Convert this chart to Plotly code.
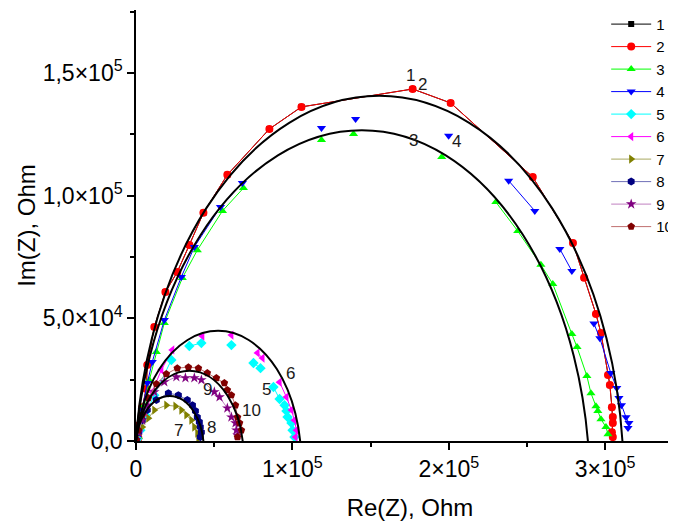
import plotly.graph_objects as go

# --- data (Re, Im in Ohm) ---
re_2 = [1.5e3, 2.1e3, 4.0e3, 6.6e3, 7.2e3, 11.7e3, 18.8e3, 26.4e3, 34.1e3, 43.1e3, 58.4e3, 85.3e3,
        105.8e3, 176.9e3, 201.2e3, 253.7e3, 279.4e3, 286.5e3, 294.1e3, 297.3e3, 301.8e3, 303.0e3,
        304.3e3, 304.9e3, 304.9e3, 304.3e3, 304.9e3]
im_2 = [1.2e3, 6.5e3, 13.8e3, 21.2e3, 31.0e3, 46.5e3, 60.7e3, 68.9e3, 79.9e3, 93.0e3, 108.5e3, 127.2e3,
        136.2e3, 143.5e3, 137.8e3, 107.6e3, 80.7e3, 66.5e3, 51.8e3, 44.0e3, 26.9e3, 22.8e3,
        13.8e3, 9.8e3, 7.3e3, 3.6e3, 1.6e3]

re_1 = list(re_2)
im_1 = list(im_2)

re_3 = [1.5e3, 2.8e3, 5.3e3, 8.5e3, 13.0e3, 18.1e3, 29.6e3, 39.2e3, 55.3e3, 68.7e3, None, 118.6e3, None,
        139.1e3, None, 195.5e3, None, 230.1e3, 244.1e3, 258.9e3, 266.5e3, 278.7e3, 282.0e3, 288.3e3,
        290.9e3, 294.1e3, 295.3e3, 297.3e3, 300.5e3, 301.8e3]
im_3 = [1.6e3, 6.5e3, 14.6e3, 24.8e3, 36.3e3, 48.1e3, 66.4e3, 77.8e3, 93.8e3, 103.1e3, None, 122.7e3, None,
        125.2e3, None, 115.8e3, None, 97.4e3, 85.6e3, 71.8e3, 64.0e3, 43.6e3, 38.3e3, 26.5e3,
        19.5e3, 14.2e3, 12.2e3, 8.9e3, 5.7e3, 2.8e3]

re_4 = [0.8e3, 2.1e3, 4.0e3, 7.2e3, 10.4e3, 18.1e3, 29.0e3, 37.3e3, 54.0e3, 68.0e3, None, 118.6e3, None,
        140.4e3, None, 199.9e3, None, 238.3e3, 255.0e3, None, 271.0e3, 278.7e3, None, 292.8e3, 296.6e3,
        303.6e3, 307.4e3, 308.8e3, 310.4e3, 313.3e3, 315.2e3, 314.6e3]
im_4 = [1.2e3, 5.3e3, 12.6e3, 23.6e3, 32.2e3, 49.3e3, 66.9e3, 79.1e3, 95.4e3, 105.2e3, None, 127.6e3, None,
        131.3e3, None, 124.4e3, None, 106.1e3, 93.8e3, None, 78.3e3, 69.3e3, None, 47.9e3, 41.9e3,
        27.7e3, 21.6e3, 17.5e3, 14.6e3, 9.7e3, 7.3e3, 5.3e3]

re_5 = [0.8e3, 2.8e3, 6.0e3, 11.7e3, 22.6e3, None, 34.1e3, 41.8e3, None, 61.0e3, None, 75.1e3, 79.6e3, None,
        87.9e3, 91.8e3, 95.0e3, 96.2e3, 96.9e3, 99.4e3, 100.1e3, 101.3e3]
im_5 = [0.8e3, 4.4e3, 10.6e3, 18.7e3, 33.0e3, None, 38.7e3, 39.9e3, None, 39.1e3, None, 31.8e3, 29.7e3, None,
        22.0e3, 17.1e3, 14.6e3, 12.2e3, 9.8e3, 7.3e3, 4.4e3, 1.6e3]

re_6 = [0.8e3, 2.8e3, 6.0e3, 10.4e3, 16.2e3, 23.2e3, None, 42.4e3, None, 61.0e3, None, 77.7e3, 80.9e3, None,
        91.8e3, 96.2e3, 99.4e3, 101.3e3, 102.6e3, 102.0e3]
im_6 = [0.8e3, 4.4e3, 11.4e3, 20.0e3, 29.0e3, 37.1e3, None, 42.8e3, None, 43.2e3, None, 35.9e3, 33.8e3, None,
        24.0e3, 17.9e3, 12.6e3, 8.5e3, 4.4e3, 1.6e3]

re_7 = [0.2e3, 1.5e3, 4.0e3, 7.9e3, 11.7e3, 19.4e3, 25.2e3, 29.0e3, 32.2e3, 35.4e3, 37.3e3, 39.2e3, 39.9e3]
im_7 = [0.4e3, 2.8e3, 5.7e3, 9.3e3, 12.6e3, 14.6e3, 14.2e3, 12.6e3, 10.6e3, 8.5e3, 5.7e3, 3.2e3, 1.2e3]

re_8 = [0.2e3, 1.5e3, 4.0e3, 7.2e3, 13.0e3, 20.7e3, 27.1e3, 32.8e3, 36.1e3, 38.0e3, 39.2e3, 40.5e3,
        41.1e3, 41.8e3, 41.1e3]
im_8 = [0.4e3, 3.6e3, 8.5e3, 12.6e3, 16.7e3, 19.5e3, 18.7e3, 16.7e3, 14.6e3, 12.2e3, 9.7e3, 7.7e3,
        5.7e3, 3.6e3, 1.6e3]

re_9 = [0.2e3, 1.5e3, 4.0e3, 7.2e3, 11.7e3, 18.1e3, 25.8e3, 31.6e3, 37.3e3, 41.8e3, 50.1e3, 53.4e3,
        58.4e3, 61.0e3, 63.6e3, 64.2e3, 64.9e3]
im_9 = [0.4e3, 3.6e3, 8.5e3, 14.6e3, 20.0e3, 24.1e3, 26.1e3, 25.7e3, 25.7e3, 24.9e3, 20.0e3, 17.9e3,
        13.4e3, 9.7e3, 7.3e3, 4.4e3, 2.4e3]

re_10 = [0.2e3, 1.5e3, 4.0e3, 7.9e3, 13.0e3, 19.4e3, 26.4e3, 33.5e3, 39.9e3, 45.6e3, 51.4e3, 56.5e3,
         58.4e3, 61.0e3, 63.6e3, 64.9e3, 66.2e3, 67.4e3, 64.9e3]
im_10 = [0.4e3, 4.4e3, 10.6e3, 17.5e3, 23.2e3, 27.3e3, 29.7e3, 30.1e3, 29.7e3, 27.7e3, 25.7e3, 23.6e3,
         20.8e3, 18.7e3, 14.6e3, 9.7e3, 7.3e3, 4.4e3, 1.6e3]

series_names = ["1", "2", "3", "4", "5", "6", "7", "8", "9", "10"]
series_re = [re_1, re_2, re_3, re_4, re_5, re_6, re_7, re_8, re_9, re_10]
series_im = [im_1, im_2, im_3, im_4, im_5, im_6, im_7, im_8, im_9, im_10]

# fitted (depressed) semicircles: centre and radius
fit_cx = [155.5e3, 144.4e3, 52.5e3, 34.1e3, 21.55e3]
fit_cy = [-15.6e3, -19.1e3, -8.2e3, -6.0e3, -3.5e3]
fit_r = [156.3e3, 145.8e3, 53.1e3, 34.6e3, 21.8e3]

# curve number labels
label_text = ["1", "2", "3", "4", "5", "6", "7", "8", "9", "10"]
label_x = [175.6e3, 183.3e3, 177.5e3, 205.1e3, 83.4e3, 98.8e3, 27.1e3, 48.2e3, 45.6e3, 73.8e3]
label_y = [148.8e3, 145.5e3, 122.3e3, 121.9e3, 20.8e3, 27.7e3, 4.4e3, 5.7e3, 21.2e3, 12.6e3]

x_tickvals = [0, 1e5, 2e5, 3e5]
x_ticktext = ["0", "1×10<sup>5</sup>", "2×10<sup>5</sup>", "3×10<sup>5</sup>"]
y_tickvals = [0, 5e4, 1e5, 1.5e5]
y_ticktext = ["0,0", "5,0×10<sup>4</sup>", "1,0×10<sup>5</sup>", "1,5×10<sup>5</sup>"]

# --- styling ---
FONT = "Arial, Liberation Sans, sans-serif"
MARKER_COLORS = ["#000000", "#ff0000", "#00ff00", "#0000ff", "#00ffff",
                 "#ff00ff", "#808000", "#000080", "#800080", "#800000"]
LINE_COLORS = ["#000000", "#ff0000", "#00ff00", "#0000ff", "#00ffff",
               "#ff00ff", "#a8a860", "#7070b8", "#c080c0", "#c07070"]
SYMBOLS = ["square", "circle", "triangle-up", "triangle-down", "diamond",
           "triangle-left", "triangle-right", "hexagon", "star", "pentagon"]
MARKER_SIZES = [6, 8, 8, 8, 8, 8, 8, 8, 8, 8]
# page has an 8px body margin; plot area spans x 136..684, y 10..441 on the page
X_RANGE = [0, 3.504e5]
Y_RANGE = [0, 1.757e5]

fig = go.Figure()
for i, name in enumerate(series_names):
    fig.add_trace(go.Scatter(
        x=series_re[i],
        y=series_im[i],
        mode="lines+markers",
        name=name,
        connectgaps=False,
        line={"color": LINE_COLORS[i], "width": 1},
        marker={"symbol": SYMBOLS[i], "size": MARKER_SIZES[i], "color": MARKER_COLORS[i],
                "line": {"width": 0}},
    ))

for cx, cy, r in zip(fit_cx, fit_cy, fit_r):
    fig.add_shape(type="circle", xref="x", yref="y",
                  x0=cx - r, x1=cx + r, y0=cy - r, y1=cy + r,
                  line={"color": "black", "width": 2}, layer="above")

for t, x, y in zip(label_text, label_x, label_y):
    fig.add_annotation(x=x, y=y, text=t, showarrow=False, xref="x", yref="y",
                       font={"size": 17, "color": "#1a1a1a", "family": FONT})

axis_common = dict(
    showgrid=False, zeroline=False, showline=True, linecolor="black", linewidth=1.5,
    ticks="outside", ticklen=7, tickwidth=1.5, tickcolor="black",
    tickfont={"size": 23, "color": "black", "family": FONT},
)

fig.update_layout(
    width=676, height=521,
    margin={"l": 128, "r": 0, "t": 2, "b": 88, "autoexpand": False},
    plot_bgcolor="white", paper_bgcolor="white",
    font={"family": FONT, "color": "black"},
    xaxis=dict(
        axis_common, range=X_RANGE, tickmode="array", tickvals=x_tickvals, ticktext=x_ticktext,
        minor={"dtick": 5e4, "ticks": "outside", "ticklen": 4, "tickwidth": 1.5, "tickcolor": "black"},
        title={"text": "Re(Z), Ohm", "font": {"size": 24, "family": FONT}, "standoff": 18},
    ),
    xaxis2=dict(
        overlaying="x", side="top", anchor="y", range=X_RANGE, showgrid=False, zeroline=False,
        showline=True, linecolor="black", linewidth=1.5, showticklabels=False,
        ticks="inside", ticklen=6, tickwidth=1.5, tickcolor="black",
        tickmode="array", tickvals=x_tickvals,
    ),
    yaxis=dict(
        axis_common, range=Y_RANGE, tickmode="array", tickvals=y_tickvals, ticktext=y_ticktext,
        minor={"dtick": 2.5e4, "ticks": "outside", "ticklen": 4, "tickwidth": 1.5, "tickcolor": "black"},
        title={"text": "Im(Z), Ohm", "font": {"size": 24, "family": FONT}, "standoff": 0},
    ),
    legend={
        "x": 0.858, "y": 1.005, "xanchor": "left", "yanchor": "top",
        "bgcolor": "rgba(0,0,0,0)", "borderwidth": 0,
        "font": {"size": 15, "family": FONT, "color": "black"},
        "itemwidth": 40, "tracegroupgap": 0,
    },
    showlegend=True,
)

fig.write_html("out.html")
